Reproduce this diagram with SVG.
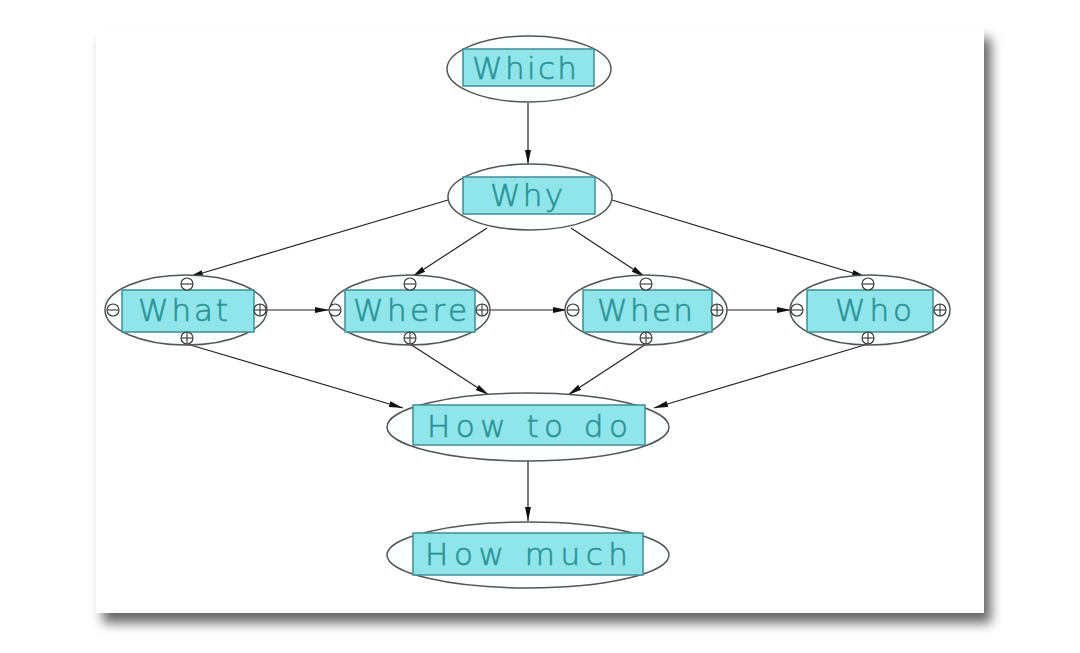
<svg xmlns="http://www.w3.org/2000/svg" width="1080" height="653" viewBox="0 0 1080 653">
<defs>
<filter id="sh" x="-5%" y="-5%" width="115%" height="115%">
<feDropShadow dx="7" dy="10" stdDeviation="6" flood-color="#000" flood-opacity="0.6"/>
</filter>
<marker id="arr" markerUnits="userSpaceOnUse" markerWidth="14" markerHeight="8" refX="14" refY="4" orient="auto">
<path d="M0,1 L14,4 L0,7 z" fill="#111"/>
</marker>
<g id="mn"><circle r="6" fill="#fff" stroke="#333" stroke-width="1.1"/><line x1="-6" y1="0" x2="6" y2="0" stroke="#333" stroke-width="1.1"/></g>
<g id="pl"><circle r="6" fill="#fff" stroke="#333" stroke-width="1.1"/><line x1="-6" y1="0" x2="6" y2="0" stroke="#333" stroke-width="1.1"/><line x1="0" y1="-6" x2="0" y2="6" stroke="#333" stroke-width="1.1"/></g>
</defs>
<style>
.el{fill:#fbffff;stroke:#555;stroke-width:1.5}
.bx{fill:#8fe5ea;stroke:#3f8f93;stroke-width:1.5}
.tx{font-family:"DejaVu Sans","Liberation Sans",sans-serif;font-size:31px;font-weight:200;fill:#2a9397;stroke:#2a9397;stroke-width:0.6}
.cn{stroke:#222;stroke-width:1.2;fill:none;marker-end:url(#arr)}
</style>
<rect width="1080" height="653" fill="#fff"/>
<rect x="96" y="28" width="888" height="585" fill="#fff" filter="url(#sh)"/>
<g id="connectors">
<line class="cn" x1="448" y1="200" x2="189" y2="277"/>
<line class="cn" x1="487" y1="228" x2="412" y2="277"/>
<line class="cn" x1="571" y1="228" x2="645" y2="277"/>
<line class="cn" x1="612" y1="200" x2="866" y2="277"/>
<line class="cn" x1="528" y1="103" x2="528" y2="164"/>
<line class="cn" x1="266" y1="310" x2="329" y2="310"/>
<line class="cn" x1="488" y1="310" x2="567" y2="310"/>
<line class="cn" x1="723" y1="310" x2="791" y2="310"/>
<line class="cn" x1="187" y1="344" x2="403" y2="408"/>
<line class="cn" x1="410" y1="344" x2="489" y2="395"/>
<line class="cn" x1="646" y1="344" x2="568" y2="395"/>
<line class="cn" x1="868" y1="344" x2="654" y2="408"/>
<line class="cn" x1="528" y1="461" x2="528" y2="521"/>
</g>
<g id="which">
<ellipse class="el" cx="529" cy="69" rx="82" ry="33"/>
<rect class="bx" x="463" y="49" width="131" height="37"/>
<text class="tx" x="472" y="79" textLength="105" lengthAdjust="spacing">Which</text>
</g>
<g id="why">
<ellipse class="el" cx="530" cy="197" rx="82" ry="33"/>
<rect class="bx" x="463" y="177" width="132" height="37"/>
<text class="tx" x="490" y="206" textLength="73" lengthAdjust="spacing">Why</text>
</g>
<g id="what">
<ellipse class="el" cx="186" cy="310" rx="81" ry="35"/>
<rect class="bx" x="122" y="290" width="132" height="42"/>
<text class="tx" x="138" y="321" textLength="90" lengthAdjust="spacing">What</text>
<use href="#mn" x="187" y="284"/><use href="#pl" x="187" y="338"/><use href="#mn" x="113" y="310"/><use href="#pl" x="260" y="310"/>
</g>
<g id="where">
<ellipse class="el" cx="410" cy="310" rx="80" ry="35"/>
<rect class="bx" x="345" y="290" width="130" height="42"/>
<text class="tx" x="353" y="321" textLength="114" lengthAdjust="spacing">Where</text>
<use href="#mn" x="410" y="284"/><use href="#pl" x="410" y="338"/><use href="#mn" x="335" y="310"/><use href="#pl" x="482" y="310"/>
</g>
<g id="when">
<ellipse class="el" cx="646" cy="310" rx="81" ry="35"/>
<rect class="bx" x="583" y="290" width="129" height="42"/>
<text class="tx" x="597" y="321" textLength="96" lengthAdjust="spacing">When</text>
<use href="#mn" x="646" y="284"/><use href="#pl" x="646" y="338"/><use href="#mn" x="573" y="310"/><use href="#pl" x="717" y="310"/>
</g>
<g id="who">
<ellipse class="el" cx="870" cy="310" rx="80" ry="35"/>
<rect class="bx" x="807" y="290" width="126" height="42"/>
<text class="tx" x="835" y="321" textLength="77" lengthAdjust="spacing">Who</text>
<use href="#mn" x="868" y="284"/><use href="#pl" x="868" y="338"/><use href="#mn" x="797" y="310"/><use href="#pl" x="940" y="310"/>
</g>
<g id="howtodo">
<ellipse class="el" cx="528" cy="427" rx="141" ry="34"/>
<rect class="bx" x="413" y="405" width="232" height="40"/>
<text class="tx" x="427" y="437" textLength="201" lengthAdjust="spacing">How to do</text>
</g>
<g id="howmuch">
<ellipse class="el" cx="528" cy="555" rx="141" ry="33"/>
<rect class="bx" x="413" y="533" width="230" height="42"/>
<text class="tx" x="425" y="565" textLength="203" lengthAdjust="spacing">How much</text>
</g>
</svg>
